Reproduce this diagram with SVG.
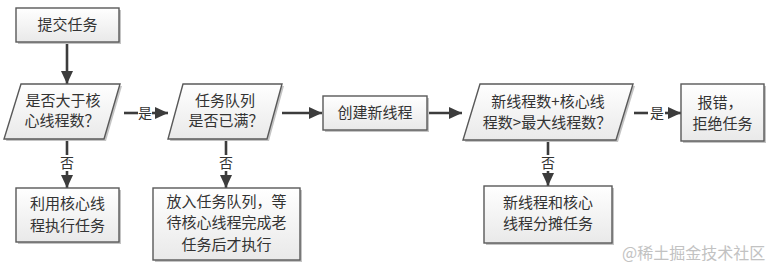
<svg xmlns="http://www.w3.org/2000/svg" width="774" height="268" viewBox="0 0 774 268">
<defs>
<linearGradient id="g" x1="0" y1="0" x2="0" y2="1">
<stop offset="0" stop-color="#ffffff"/>
<stop offset="1" stop-color="#e9e9e9"/>
</linearGradient>
<marker id="ah" markerUnits="userSpaceOnUse" markerWidth="14" markerHeight="12" refX="13" refY="6" orient="auto">
<path d="M0,0 L13,6 L0,12 z" fill="#3c3c3c"/>
</marker>
<style>
.shape{fill:url(#g);stroke:#595959;stroke-width:1.4}
.shadow{fill:#c4c4c4}
.t{font-family:"Noto Sans CJK SC","Noto Sans",sans-serif;font-size:15px;fill:#333;text-anchor:middle}
.lbl{font-family:"Noto Sans CJK SC","Noto Sans",sans-serif;font-size:14px;fill:#333;text-anchor:middle}
.c{stroke:#3c3c3c;stroke-width:2.6;fill:none}
.c2{stroke:#3c3c3c;stroke-width:2.6;fill:none;marker-end:url(#ah)}
.wm{font-family:"Noto Sans CJK SC","Noto Sans",sans-serif;font-size:16px;fill:#c2c2c2}
</style>
</defs>
<rect width="774" height="268" fill="#ffffff"/>

<g id="connectors">
<line class="c2" x1="67" y1="42" x2="67" y2="84"/>
<line class="c" x1="124" y1="113" x2="138" y2="113"/>
<line class="c2" x1="152" y1="113" x2="168" y2="113"/>
<text class="lbl" x="145" y="118">是</text>
<line class="c2" x1="282" y1="113" x2="322" y2="113"/>
<line class="c2" x1="429" y1="113" x2="462" y2="113"/>
<line class="c" x1="634" y1="113" x2="648" y2="113"/>
<line class="c2" x1="665" y1="113" x2="681" y2="113"/>
<text class="lbl" x="657" y="118">是</text>
<line class="c" x1="67" y1="139" x2="67" y2="155"/>
<line class="c2" x1="67" y1="171" x2="67" y2="188"/>
<text class="lbl" x="67" y="168">否</text>
<line class="c" x1="226" y1="139" x2="226" y2="155"/>
<line class="c2" x1="226" y1="171" x2="226" y2="188"/>
<text class="lbl" x="226" y="168">否</text>
<line class="c" x1="548" y1="140" x2="548" y2="155"/>
<line class="c2" x1="548" y1="171" x2="548" y2="186"/>
<text class="lbl" x="548" y="168">否</text>
</g>

<g id="submit">
<rect class="shadow" x="18" y="10" width="103" height="34"/>
<rect class="shape" x="16" y="8" width="103" height="34"/>
<text class="t" x="67.5" y="30">提交任务</text>
</g>

<g id="cmpCore">
<polygon class="shadow" points="23,86 122,86 106,141 6,141"/>
<polygon class="shape" points="21,84 120,84 104,139 4,139"/>
<text class="t" x="63" y="106">是否大于核</text>
<text class="t" x="62" y="126">心线程数？</text>
</g>

<g id="useCore">
<rect class="shadow" x="18" y="190" width="103" height="54"/>
<rect class="shape" x="16" y="188" width="103" height="54"/>
<text class="t" x="67.5" y="209">利用核心线</text>
<text class="t" x="67.5" y="231">程执行任务</text>
</g>

<g id="queueFull">
<polygon class="shadow" points="185,86 284,86 269,141 170,141"/>
<polygon class="shape" points="183,84 282,84 267,139 168,139"/>
<text class="t" x="225" y="106">任务队列</text>
<text class="t" x="226" y="126">是否已满？</text>
</g>

<g id="enqueue">
<rect class="shadow" x="155" y="190" width="147" height="72"/>
<rect class="shape" x="153" y="188" width="147" height="72"/>
<text class="t" x="226.5" y="207">放入任务队列，等</text>
<text class="t" x="226.5" y="228">待核心线程完成老</text>
<text class="t" x="226.5" y="250">任务后才执行</text>
</g>

<g id="createThread">
<rect class="shadow" x="325" y="98" width="104" height="34"/>
<rect class="shape" x="323" y="96" width="104" height="34"/>
<text class="t" x="375" y="118">创建新线程</text>
</g>

<g id="cmpMax">
<polygon class="shadow" points="482,86 635,86 618,142 465,142"/>
<polygon class="shape" points="480,84 633,84 616,140 463,140"/>
<text class="t" x="548" y="107">新线程数+核心线</text>
<text class="t" x="547" y="128">程数&gt;最大线程数？</text>
</g>

<g id="reject">
<rect class="shadow" x="683" y="86" width="83" height="57"/>
<rect class="shape" x="681" y="84" width="83" height="57"/>
<text class="t" x="720" y="108">报错，</text>
<text class="t" x="722.5" y="129">拒绝任务</text>
</g>

<g id="share">
<rect class="shadow" x="486" y="188" width="128" height="57"/>
<rect class="shape" x="484" y="186" width="128" height="57"/>
<text class="t" x="548" y="208">新线程和核心</text>
<text class="t" x="548" y="229">线程分摊任务</text>
</g>

<text class="wm" x="622" y="259">@稀土掘金技术社区</text>
</svg>
